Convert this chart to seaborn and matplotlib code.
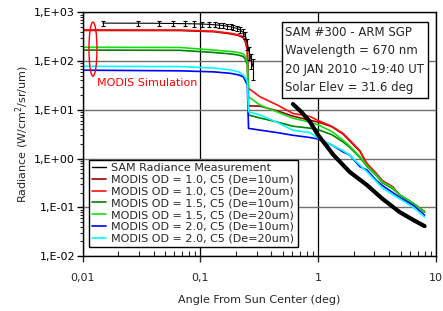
import numpy as np
import pandas as pd
import matplotlib
matplotlib.use("Agg")
import matplotlib.pyplot as plt
import seaborn as sns
from matplotlib.patches import Ellipse
from matplotlib.lines import Line2D
from matplotlib.ticker import FixedLocator, FixedFormatter, LogLocator, NullFormatter

# ---------------- data ----------------
# SAM sky radiance (thin line with error bars)
SAM_X = [0.0148, 0.0296, 0.0445, 0.059, 0.074, 0.088, 0.103, 0.118, 0.133, 0.144,
         0.155, 0.168, 0.18, 0.19, 0.203, 0.216, 0.23, 0.24, 0.25, 0.26, 0.27, 0.28]
SAM_Y = [600, 598, 595, 590, 585, 580, 575, 565, 555, 545,
         535, 520, 505, 490, 470, 440, 390, 340, 230, 150, 105, 75]
SAM_REL_ERR = [0.12, 0.12, 0.12, 0.12, 0.12, 0.12, 0.12, 0.12, 0.12, 0.12,
               0.12, 0.12, 0.12, 0.12, 0.12, 0.13, 0.15, 0.18, 0.25, 0.3, 0.35, 0.45]

# SAM aureole radiance (thick line)
AUR_X = [0.61, 0.72, 0.85, 1.0, 1.19, 1.34, 1.85, 2.6, 3.5, 4.9, 6.4, 8.0]
AUR_Y = [13.1, 9.0, 5.7, 3.0, 1.75, 1.2, 0.53, 0.284, 0.15, 0.08, 0.055, 0.041]

# MODIS simulations on a common angle grid
ANGLE = [0.010, 0.067, 0.13, 0.18, 0.21, 0.23, 0.24, 0.25, 0.256, 0.32, 0.45, 0.61,
         0.85, 1.0, 1.3, 1.62, 1.85, 2.26, 2.6, 3.1, 3.5, 4.3, 4.9, 6.4, 8.0]
OD10_DE10 = [425, 423, 400, 362, 335, 305, 250, 170, 12.0, 11.9, 9.5, 7.4,
             6.1, 5.6, 4.5, 3.2, 2.3, 1.4, 0.76, 0.49, 0.35, 0.26, 0.18, 0.12, 0.08]
OD10_DE20 = [435, 433, 410, 372, 345, 315, 262, 180, 27.5, 18.5, 12.5, 8.4,
             7.3, 6.0, 4.6, 3.3, 2.4, 1.45, 0.78, 0.5, 0.35, 0.26, 0.18, 0.12, 0.082]
OD15_DE10 = [168, 166, 150, 140, 133, 124, 110, 85, 7.8, 6.8, 5.6, 4.6,
             4.2, 3.9, 3.1, 2.2, 1.7, 1.05, 0.68, 0.45, 0.32, 0.24, 0.18, 0.12, 0.08]
OD15_DE20 = [192, 190, 168, 157, 150, 140, 125, 95, 18.5, 12.5, 9.0, 6.7,
             5.6, 4.9, 3.6, 2.4, 1.8, 1.1, 0.7, 0.46, 0.33, 0.25, 0.18, 0.12, 0.08]
OD20_DE10 = [65, 63, 60, 56, 52, 48, 40, 32, 4.15, 3.83, 3.4, 3.0,
             2.7, 2.5, 1.9, 1.37, 1.18, 0.68, 0.58, 0.36, 0.28, 0.2, 0.16, 0.11, 0.069]
OD20_DE20 = [78, 77, 72, 66, 60, 52, 46, 38, 9.1, 7.8, 5.5, 3.8,
             3.4, 2.6, 1.9, 1.45, 1.18, 0.73, 0.53, 0.34, 0.25, 0.18, 0.15, 0.10, 0.063]

SERIES_LABELS = ["MODIS OD = 1.0, C5 (De=10um)", "MODIS OD = 1.0, C5 (De=20um)",
                 "MODIS OD = 1.5, C5 (De=10um)", "MODIS OD = 1.5, C5 (De=20um)",
                 "MODIS OD = 2.0, C5 (De=10um)", "MODIS OD = 2.0, C5 (De=20um)"]
SERIES_VALUES = [OD10_DE10, OD10_DE20, OD15_DE10, OD15_DE20, OD20_DE10, OD20_DE20]
SERIES_COLORS = ["#A00000", "#FF1010", "#008000", "#10E010", "#0000FF", "#00FFFF"]
SAM_LABEL = "SAM Radiance Measurement"

Y_TICKS = [1e-2, 1e-1, 1e0, 1e1, 1e2, 1e3]
Y_TICK_LABELS = ["1,E-02", "1,E-01", "1,E+00", "1,E+01", "1,E+02", "1,E+03"]
X_TICKS = [0.01, 0.1, 1, 10]
X_TICK_LABELS = ["0,01", "0,1", "1", "10"]

INFO_TEXT = "SAM #300 - ARM SGP\nWavelength = 670 nm\n20 JAN 2010 ~19:40 UT\nSolar Elev = 31.6 deg"

# ---------------- plot ----------------
sns.set_style("ticks")
plt.rcParams["font.family"] = ["DejaVu Sans"]
plt.rcParams["font.size"] = 8

fig = plt.figure(figsize=(4.43, 3.11), dpi=100)
ax = fig.add_axes([0.1867, 0.1768, 0.7975, 0.7836])
ax.set_xscale("log")
ax.set_yscale("log")

rows = []
for lab, vals in zip(SERIES_LABELS, SERIES_VALUES):
    for a, v in zip(ANGLE, vals):
        rows.append({"angle": a, "radiance": v, "series": lab})
df = pd.DataFrame(rows)
palette = dict(zip(SERIES_LABELS, SERIES_COLORS))

sns.lineplot(data=df, x="angle", y="radiance", hue="series", palette=palette,
             hue_order=SERIES_LABELS, sort=False, estimator=None, linewidth=1.2,
             legend=False, ax=ax)

sam_y = np.array(SAM_Y, dtype=float)
sam_err = sam_y * np.array(SAM_REL_ERR)
ax.errorbar(SAM_X, sam_y, yerr=sam_err, color="black", lw=0.8, elinewidth=0.8,
            capsize=1.6, capthick=0.8, zorder=5)
sns.lineplot(x=AUR_X, y=AUR_Y, color="black", linewidth=3.0, sort=False,
             estimator=None, ax=ax, zorder=6)

ax.set_xlim(0.01, 10)
ax.set_ylim(0.01, 1000)

ax.yaxis.set_major_locator(FixedLocator(Y_TICKS))
ax.yaxis.set_major_formatter(FixedFormatter(Y_TICK_LABELS))
ax.yaxis.set_minor_locator(LogLocator(base=10, subs=np.arange(2, 10)))
ax.yaxis.set_minor_formatter(NullFormatter())
ax.xaxis.set_major_locator(FixedLocator(X_TICKS))
ax.xaxis.set_major_formatter(FixedFormatter(X_TICK_LABELS))
ax.xaxis.set_minor_locator(LogLocator(base=10, subs=np.arange(2, 10)))
ax.xaxis.set_minor_formatter(NullFormatter())

ax.tick_params(axis="y", which="major", direction="out", length=4, width=1, pad=1.5,
               labelsize=8, colors="black")
ax.tick_params(axis="y", which="minor", direction="out", length=2.5, width=0.8)
ax.tick_params(axis="x", which="major", direction="out", length=4, width=1, pad=8,
               labelsize=8)
ax.tick_params(axis="x", which="minor", direction="in", length=3.5, width=0.8)

ax.grid(which="major", axis="y", color="#707070", lw=1)
ax.grid(which="major", axis="x", color="black", lw=0.9)
for s in ax.spines.values():
    s.set_visible(True)
    s.set_color("black")
    s.set_linewidth(1)

ax.set_xlabel("Angle From Sun Center (deg)", fontsize=8, labelpad=9)
ax.set_ylabel("Radiance (W/cm$^2$/sr/um)", fontsize=8, labelpad=2)

handles = [Line2D([], [], color="black", lw=1.0)]
handles += [Line2D([], [], color=c, lw=1.2) for c in SERIES_COLORS]
leg = ax.legend(handles, [SAM_LABEL] + SERIES_LABELS, loc="lower left",
                bbox_to_anchor=(0.018, 0.037), borderaxespad=0, fontsize=8,
                handlelength=1.2, handletextpad=0.5, labelspacing=0.16,
                borderpad=0.3, frameon=True, fancybox=False, framealpha=1,
                edgecolor="black")
leg.get_frame().set_linewidth(1)
leg.set_zorder(10)

ax.add_patch(Ellipse((0.029, 0.849), 0.0226, 0.222, transform=ax.transAxes,
                     fill=False, ec="red", lw=1, zorder=7))
ax.text(0.0405, 0.71, "MODIS Simulation", color="red", fontsize=8,
        transform=ax.transAxes, va="center", ha="left")

ax.text(0.573, 0.944, INFO_TEXT, transform=ax.transAxes, fontsize=8.5, va="top",
        ha="left", linespacing=1.55, zorder=11,
        bbox=dict(boxstyle="square,pad=0.3", fc="white", ec="black", lw=1))

fig.savefig("out.png", dpi=100)
